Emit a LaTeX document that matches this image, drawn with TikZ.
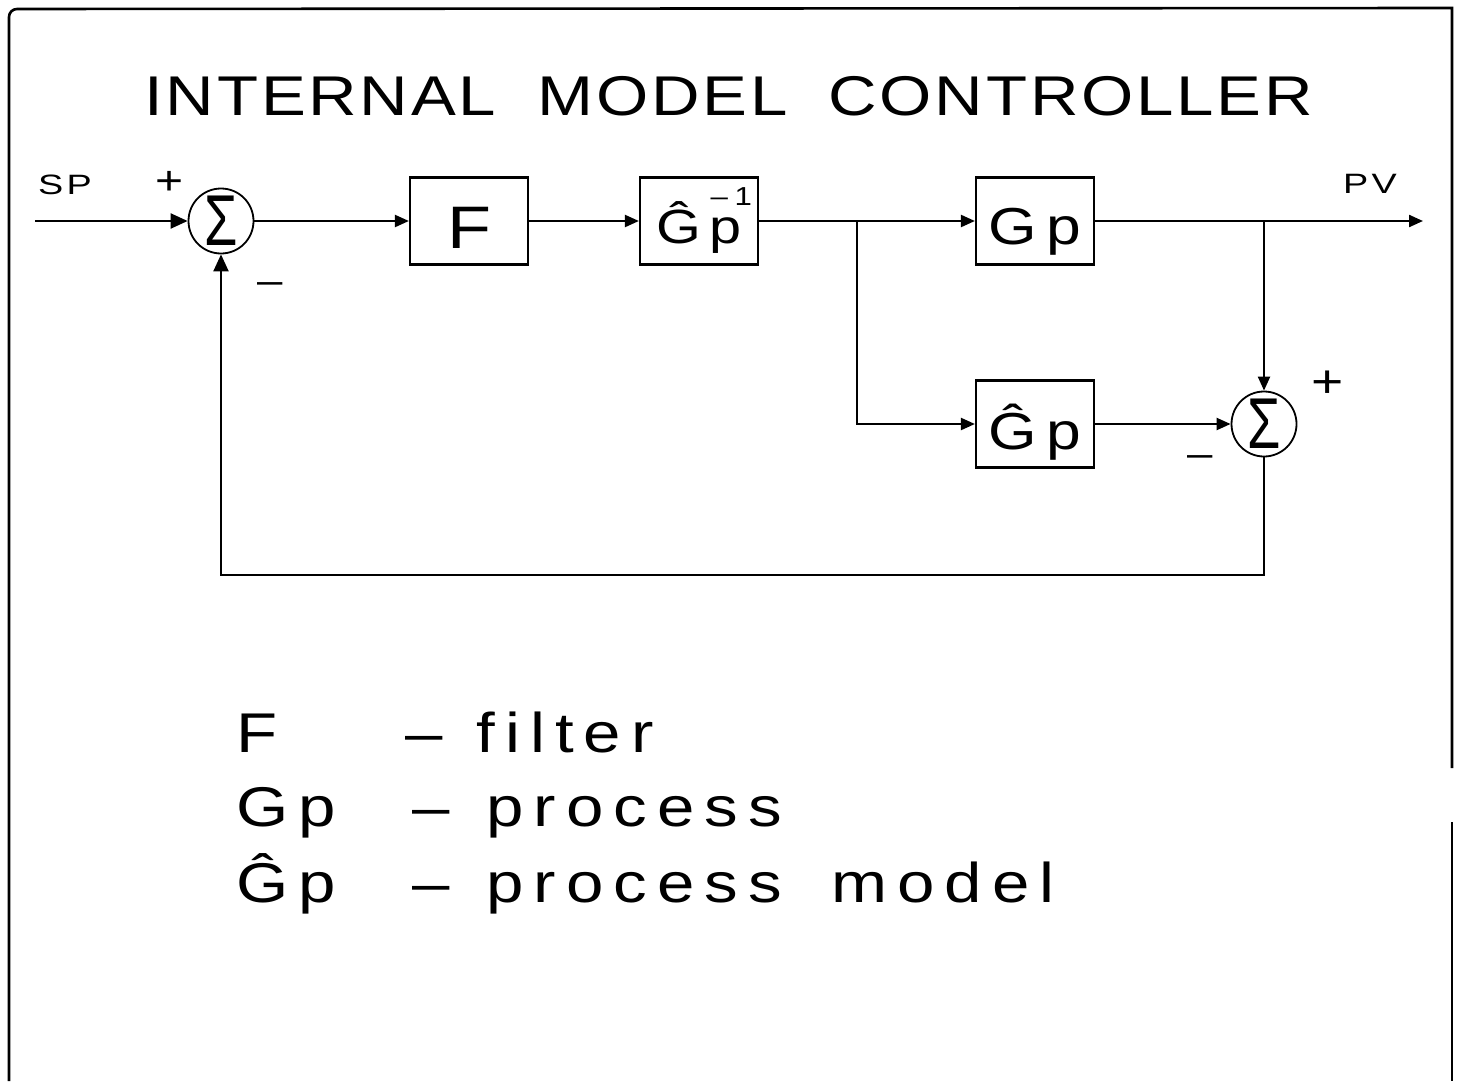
\documentclass[tikz,border=0pt]{standalone}
\usepackage{fontspec}
\setmainfont{Liberation Sans}
\newfontfamily\plotA[FakeStretch=1.2,LetterSpace=5]{Liberation Sans}
\newfontfamily\plotB[FakeStretch=1.2,LetterSpace=18]{Liberation Sans}
\newfontfamily\plotC[FakeStretch=1.2]{Liberation Sans}
\newfontfamily\plotD[FakeStretch=1.35,LetterSpace=12]{Liberation Sans}
\newfontfamily\sigfont[FakeStretch=0.75]{Liberation Sans}
\usetikzlibrary{arrows.meta}
\begin{document}
\begin{tikzpicture}[x=0.5pt,y=-0.5pt,
  frame/.style={line width=1.3pt},
  blk/.style={draw,line width=1.1pt,minimum width=59pt,minimum height=43.5pt,inner sep=0pt},
  sumnode/.style={draw,circle,line width=0.9pt,minimum size=32.5pt,inner sep=0pt,
    font=\sigfont\fontsize{36}{36}\selectfont},
  conn/.style={line width=1.1pt},
  arr/.style={conn,-{Triangle[length=7pt,width=6pt]}},
  signp/.style={anchor=base,inner sep=0pt,font=\plotC\fontsize{20}{20}\selectfont},
  signm/.style={anchor=base,inner sep=0pt,font=\plotC\fontsize{19}{19}\selectfont},
  small/.style={inner sep=0pt,font=\plotD\fontsize{14}{14}\selectfont},
  legend/.style={anchor=base west,inner sep=0pt,font=\plotB\fontsize{28}{28}\selectfont}
]
\fill[white] (0,0) rectangle (1460,1081);
\useasboundingbox (0,0) rectangle (1460,1081);

% frame
\draw[frame] (9,1081) -- (9,17) to[out=90,in=180] (17,9) -- (1452,8) -- (1452,768);
\draw[frame] (1452,822) -- (1452,1081);

% title
\node[anchor=base west,inner sep=0pt,font=\plotA\fontsize{28}{28}\selectfont] (title) at (144,115)
  {INTERNAL\hspace{20.5pt}MODEL\hspace{20.5pt}CONTROLLER};

% blocks
\node[sumnode] (sum1) at (221,221) {Σ};
\node[blk,font=\plotB\fontsize{30}{30}\selectfont,text height=27pt,text depth=0pt] (F) at (469,221) {F};
\node[blk,font=\plotB\fontsize{24}{24}\selectfont,text height=27pt,text depth=5pt] (Ginv) at (699,221)
  {Ĝp\rlap{\kern-15.5pt\raisebox{19pt}{\plotC\fontsize{13}{13}\selectfont –\kern3.3pt 1}}};
\node[blk,font=\plotB\fontsize{26}{26}\selectfont,text height=28pt,text depth=5pt] (Gp) at (1035,221) {Gp};
\node[blk,font=\plotB\fontsize{26}{26}\selectfont,text height=30pt,text depth=5pt] (Ghat) at (1035,424) {Ĝp};
\node[sumnode] (sum2) at (1264,424) {Σ};

% coordinates
\coordinate (spin) at (35,221);
\coordinate (pvout) at (1423,221);
\coordinate (b1) at (857,221);
\coordinate (b2) at (1264,221);
\coordinate (fbR) at (1264,575);

% connectors
\draw[conn,-{Triangle[length=8.5pt,width=7.5pt]}] (spin) -- (sum1.west);
\draw[arr] (sum1.east) -- (F.west);
\draw[arr] (F.east) -- (Ginv.west);
\draw[arr] (Ginv.east) -- (Gp.west);
\draw[arr] (b1) |- (Ghat.west);
\draw[arr] (Gp.east) -- (pvout);
\draw[arr] (b2) -- (sum2.north);
\draw[arr] (Ghat.east) -- (sum2.west);
\draw[conn,-{Triangle[length=8.5pt,width=7.5pt]}] (sum2.south) -- (fbR) -| (sum1.south);

% signal labels
\node[small] (sp) at (65,185) {SP};
\node[small] (pv) at (1370,184) {PV};
\node[signp] (p1) at (170,194) {+};
\node[signm] (m1) at (270,293) {–};
\node[signp,font=\plotC\fontsize{23}{23}\selectfont] (p2) at (1328,397) {+};
\node[signm] (m2) at (1200,466) {–};

% legend
\node[legend] (leg1) at (236,752) {\makebox[84.5pt][l]{F}\makebox[35.5pt][l]{–}filter};
\node[legend] (leg2) at (236,826) {\makebox[88pt][l]{Gp}\makebox[37pt][l]{–}process};
\node[legend] (leg3) at (236,902) {\makebox[88pt][l]{Ĝp}\makebox[37pt][l]{–}\makebox[172.5pt][l]{process}model};
\end{tikzpicture}
\end{document}
